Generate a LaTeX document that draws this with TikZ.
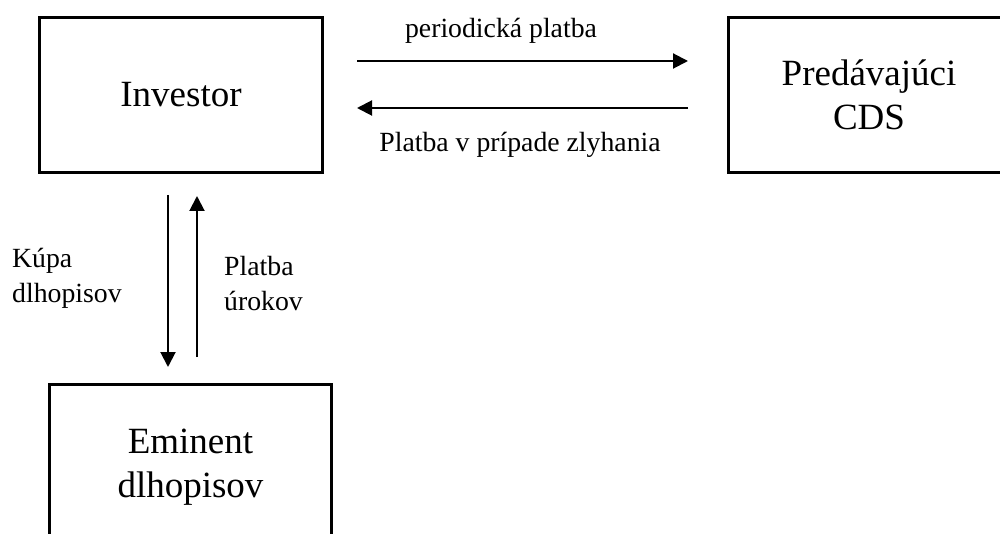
\documentclass[tikz,border=0pt]{standalone}
\usepackage{fontspec}
\setmainfont{Liberation Serif}
\usetikzlibrary{arrows.meta,calc}
\begin{document}
\begin{tikzpicture}[x=1pt,y=-1pt,
  box/.style={draw,line width=3pt,inner sep=0pt,align=center,font=\fontsize{37}{43.5}\selectfont},
  arr/.style={line width=2pt,-{Triangle[length=15pt,width=15pt]}},
  lbl/.style={inner sep=0pt,font=\fontsize{27.75}{35}\selectfont}]
\useasboundingbox (0,0) rectangle (1000,534);
\clip (0,0) rectangle (1000,534);
\node[box,minimum width=283pt,minimum height=155pt,text depth=2pt] (inv) at (181,95) {Investor};
\node[box,minimum width=281pt,minimum height=155pt] (cds) at (869,95) {Predávajúci\\CDS};
\node[box,minimum width=282pt,minimum height=165pt] (emi) at (190.5,467) {Eminent\\dlhopisov};
% horizontal arrows
\draw[arr,shorten <=33pt,shorten >=39pt] ([yshift=34pt]inv.east) -- ([yshift=34pt]cds.west);
\draw[arr,shorten <=39pt,shorten >=33pt] ([yshift=-13pt]cds.west) -- ([yshift=-13pt]inv.east);
% vertical arrows
\draw[arr,shorten <=21pt,shorten >=16pt] ([xshift=-13pt]inv.south) -- ([xshift=-13pt]inv.south |- emi.north);
\draw[arr,shorten <=26pt,shorten >=22pt] ([xshift=16pt]inv.south |- emi.north) -- ([xshift=16pt]inv.south);
% labels
\node[lbl,anchor=base] (l1) at (501,38) {periodická platba};
\node[lbl,anchor=base] (l2) at (520,152) {Platba v prípade zlyhania};
\node[lbl,anchor=base west,align=left] (l3) at (12,302) {Kúpa\\dlhopisov};
\node[lbl,anchor=base west,align=left] (l4) at (224,310) {Platba\\úrokov};
\end{tikzpicture}
\end{document}
